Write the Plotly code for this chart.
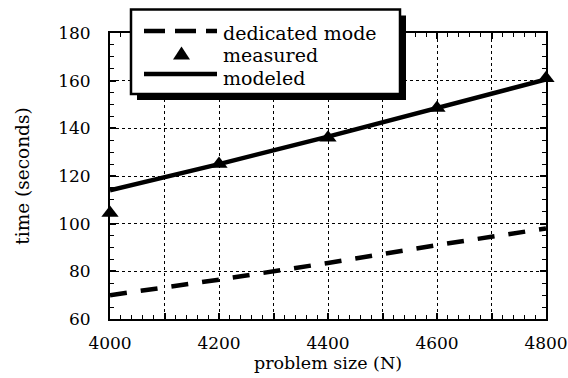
import plotly.graph_objects as go

sizes = [4000, 4200, 4400, 4600, 4800]
measured = [104.5, 125, 136, 148.5, 161]
modeled = [114, 125, 136.5, 148.5, 160.5]
dedicated = [70, 76.5, 83.5, 91, 98]
series_names = ["dedicated mode", "measured", "modeled"]

x_ticks = [4000, 4100, 4200, 4300, 4400, 4500, 4600, 4700, 4800]
x_labels = ["4000", "", "4200", "", "4400", "", "4600", "", "4800"]
y_ticks = [60, 80, 100, 120, 140, 160, 180]

FONT = "'DejaVu Serif', 'Liberation Serif', serif"

# plot-area edges in page pixels
L, R, T, B = 110, 546, 33, 319
W, H = 568, 378


def px(x):
    return (x - L) / (R - L)


def py(y):
    return (B - y) / (B - T)


fig = go.Figure()
fig.add_trace(go.Scatter(x=sizes, y=dedicated, mode="lines", name=series_names[0],
                         line=dict(color="black", width=4.5, dash="17px,14px"),
                         showlegend=False))
fig.add_trace(go.Scatter(x=sizes, y=measured, mode="markers", name=series_names[1],
                         marker=dict(symbol="triangle-up", size=15, color="black"),
                         cliponaxis=False, showlegend=False))
fig.add_trace(go.Scatter(x=sizes, y=modeled, mode="lines", name=series_names[2],
                         line=dict(color="black", width=4.5), showlegend=False))

# ---- boxed legend with drop shadow ----
box = dict(x0=131, x1=400, y0=9.5, y1=94)
shadow = 6
fig.add_shape(type="rect", xref="paper", yref="paper",
              x0=px(box["x0"] + shadow), x1=px(box["x1"] + shadow),
              y0=py(box["y1"] + shadow), y1=py(box["y0"] + shadow),
              fillcolor="black", line=dict(width=0), layer="above")
fig.add_shape(type="rect", xref="paper", yref="paper",
              x0=px(box["x0"]), x1=px(box["x1"]),
              y0=py(box["y1"]), y1=py(box["y0"]),
              fillcolor="white", line=dict(color="black", width=2.5), layer="above")

sample_x0, sample_x1 = 144, 217
row_y = [31, 53, 74]
fig.add_shape(type="line", xref="paper", yref="paper",
              x0=px(sample_x0), x1=px(sample_x1), y0=py(row_y[0]), y1=py(row_y[0]),
              line=dict(color="black", width=4.5, dash="21px,10px"), layer="above")
tri_cx, tri_w, tri_h = 181.5, 17, 13
fig.add_shape(type="path", xref="paper", yref="paper",
              path=(f"M {px(tri_cx - tri_w / 2)} {py(row_y[1] + tri_h / 2)} "
                    f"L {px(tri_cx + tri_w / 2)} {py(row_y[1] + tri_h / 2)} "
                    f"L {px(tri_cx)} {py(row_y[1] - tri_h / 2)} Z"),
              fillcolor="black", line=dict(width=0), layer="above")
fig.add_shape(type="line", xref="paper", yref="paper",
              x0=px(sample_x0), x1=px(sample_x1), y0=py(row_y[2]), y1=py(row_y[2]),
              line=dict(color="black", width=4.5), layer="above")

text_y = [32.5, 55, 77.5]
for name, ty in zip(series_names, text_y):
    fig.add_annotation(text=name, xref="paper", yref="paper",
                       x=px(222), y=py(ty), xanchor="left", yanchor="middle",
                       showarrow=False, borderpad=0,
                       font=dict(family=FONT, size=19, color="black"))

axis_common = dict(
    showline=True, linecolor="black", linewidth=2, mirror="allticks",
    ticks="inside", ticklen=6, tickcolor="black", tickwidth=1.5,
    showgrid=True, gridcolor="black", griddash="dot", gridwidth=1,
    zeroline=False, automargin=False,
    tickfont=dict(family=FONT, size=17, color="black"),
)

fig.update_xaxes(range=[4000, 4800], tickvals=x_ticks, ticktext=x_labels,
                 title_text="problem size (N)", ticklabelstandoff=8, title_standoff=2,
                 title_font=dict(family=FONT, size=17.5, color="black"),
                 minor=dict(dtick=20, ticks="inside", ticklen=4, tickcolor="black",
                            tickwidth=1, showgrid=False),
                 **axis_common)
fig.update_yaxes(range=[60, 180], tickvals=y_ticks,
                 title_text="time (seconds)", ticklabelstandoff=14, title_standoff=24,
                 title_font=dict(family=FONT, size=18.5, color="black"),
                 minor=dict(dtick=5, ticks="inside", ticklen=4, tickcolor="black",
                            tickwidth=1, showgrid=False),
                 **axis_common)

fig.update_layout(
    width=W, height=H,
    margin=dict(l=L, r=W - R, t=T, b=H - B, autoexpand=False),
    paper_bgcolor="white", plot_bgcolor="white",
    font=dict(family=FONT, size=17, color="black"),
    showlegend=False,
)

fig.write_html("out.html", config={"displayModeBar": False},
               post_script="document.body.style.margin='0';")
